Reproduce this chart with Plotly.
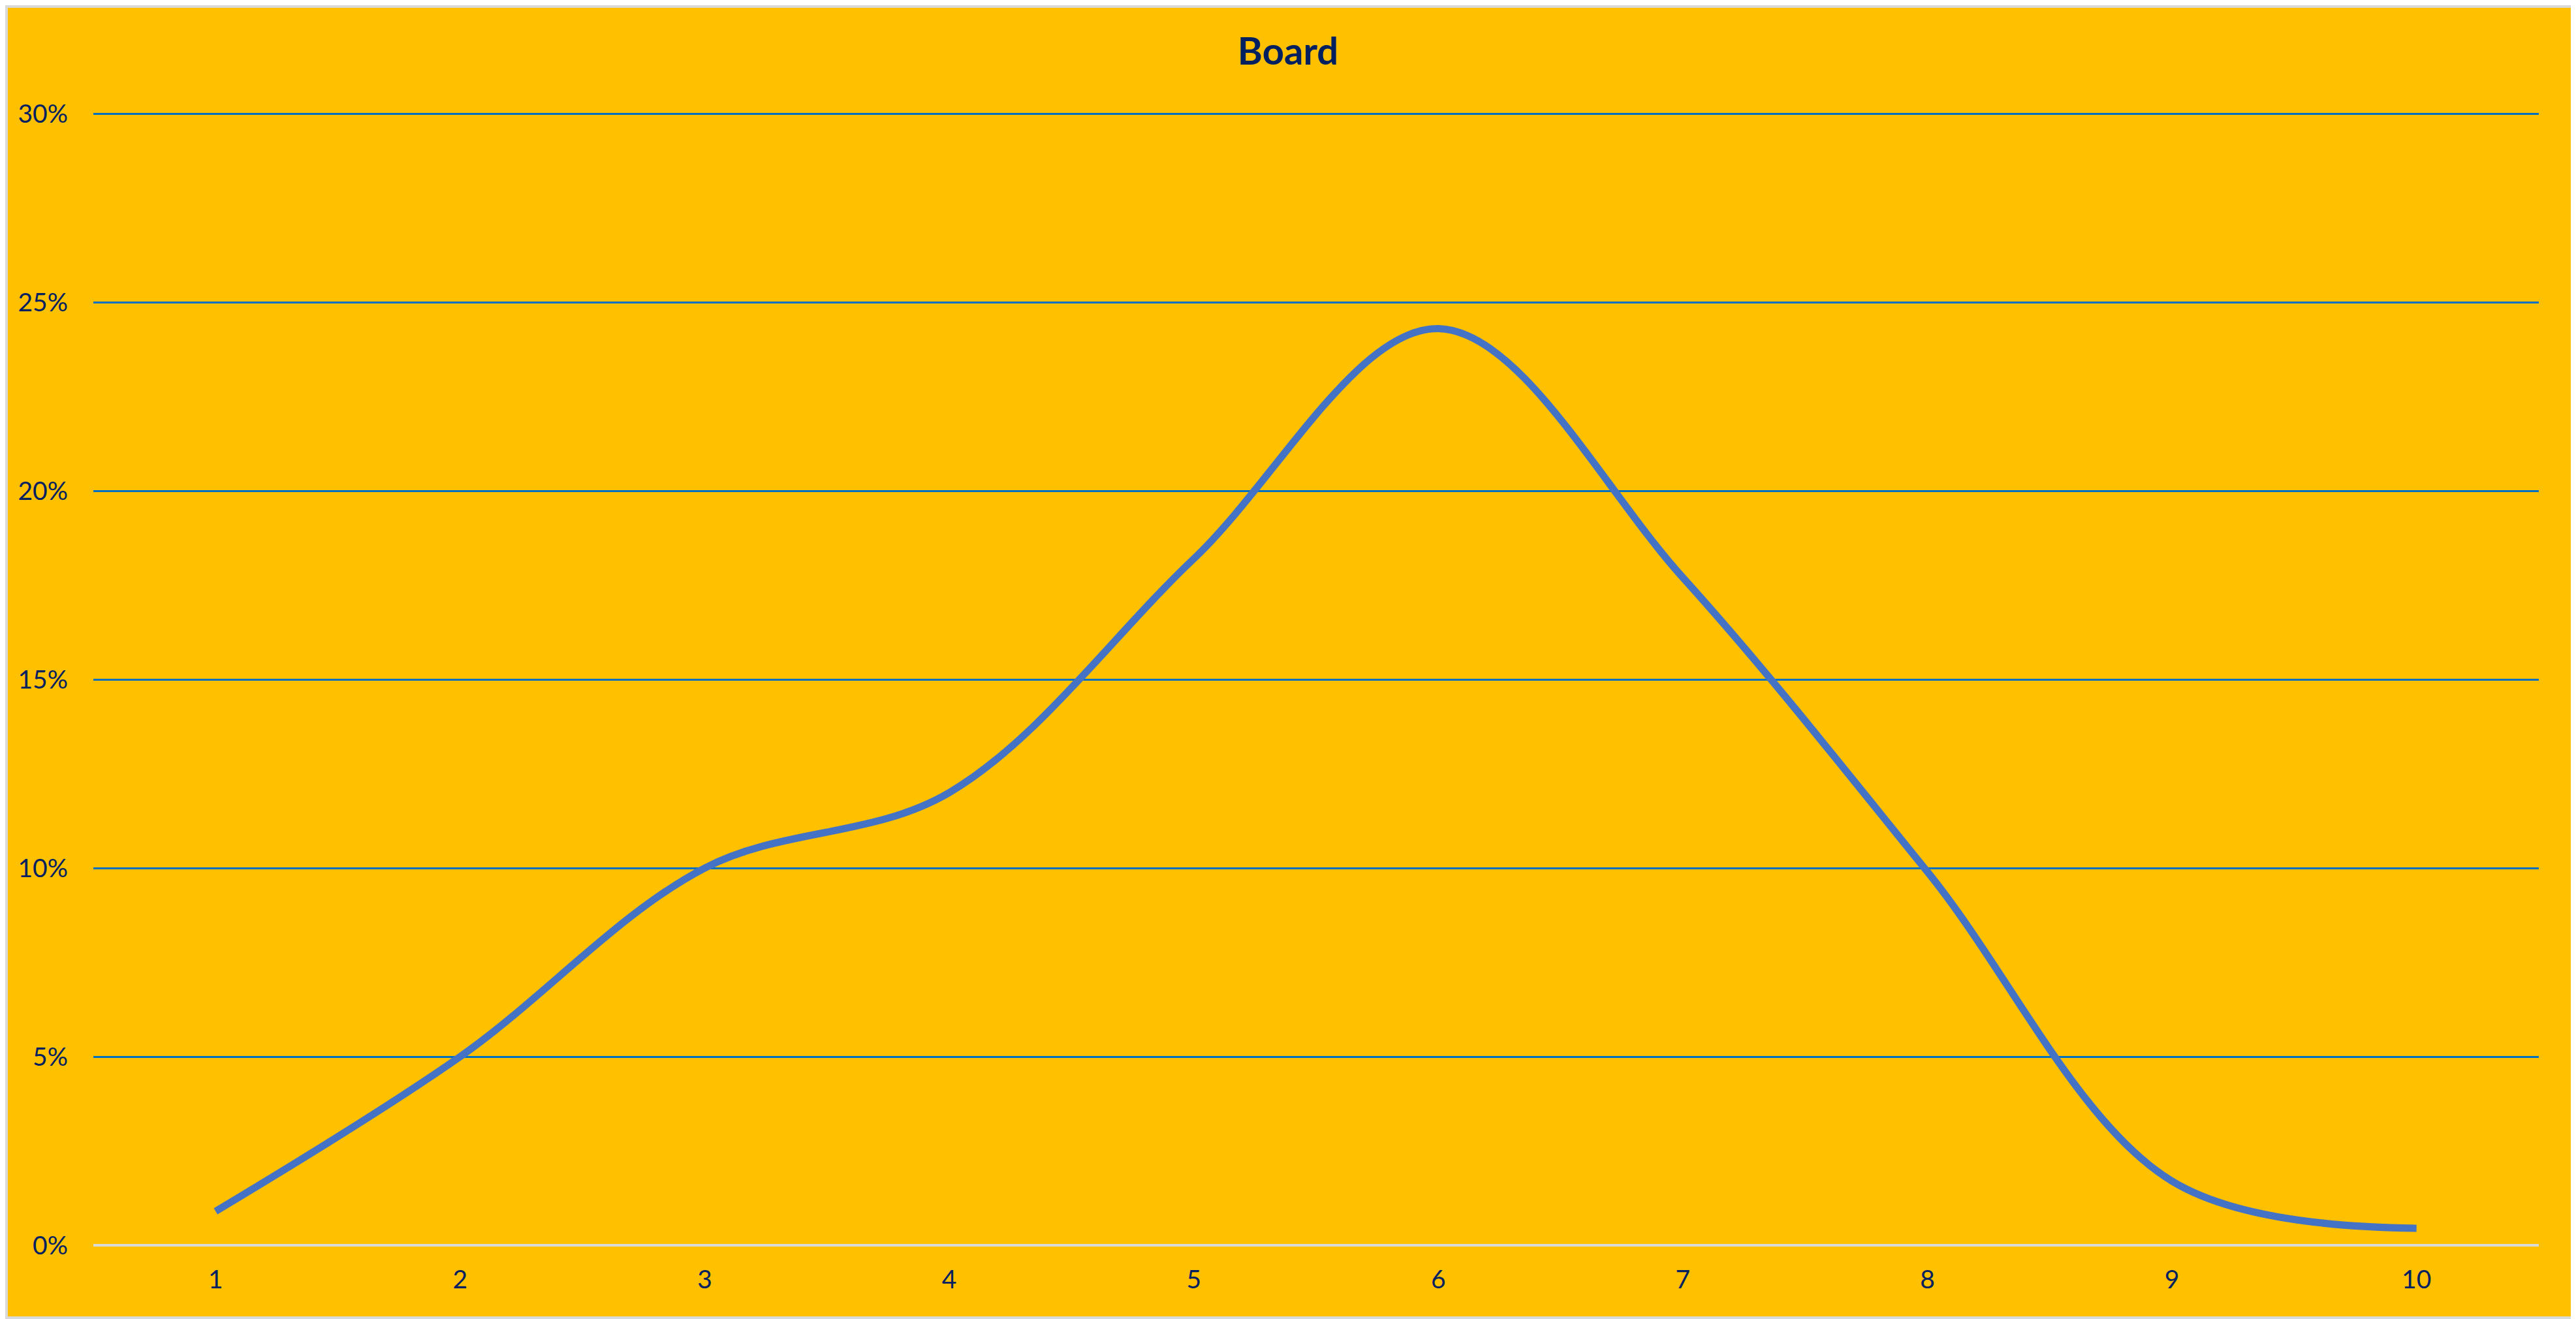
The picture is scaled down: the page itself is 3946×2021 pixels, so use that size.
import plotly.graph_objects as go

categories = ["1", "2", "3", "4", "5", "6", "7", "8", "9", "10"]
values = [0.009, 0.050, 0.100, 0.120, 0.182, 0.243, 0.177, 0.099, 0.017, 0.0045]
title_text = "Board"

OFF = 8  # default page body margin
W, H = 3946 - OFF, 2021 - OFF
ml, mr, mt, mb = 143 - OFF, 57, 173 - OFF, 113
pw, ph = W - ml - mr, H - mt - mb

text_color = "#002060"
font_family = "Lato, Open Sans, sans-serif"

fig = go.Figure()
fig.add_trace(go.Scatter(
    x=categories, y=values, mode="lines",
    line=dict(color="#4472C4", width=11, shape="spline", smoothing=1.0),
    hoverinfo="x+y",
))

fig.update_layout(
    width=W, height=H,
    margin=dict(l=ml, r=mr, t=mt, b=mb),
    paper_bgcolor="#FFC000", plot_bgcolor="#FFC000",
    showlegend=False,
    title=dict(text="<b>" + title_text + "</b>", x=(1973 - OFF) / W, xanchor="center",
               y=1 - (79 - OFF) / H, yanchor="middle",
               font=dict(family=font_family, size=58, color=text_color)),
    xaxis=dict(type="category", range=[-0.5, 9.5], showgrid=False,
               showline=False, ticks="", zeroline=False,
               tickfont=dict(family=font_family, size=39, color=text_color),
               ticklabelstandoff=26),
    yaxis=dict(range=[0, 0.3002], tickvals=[0, 0.05, 0.10, 0.15, 0.20, 0.25, 0.30],
               tickformat=".0%",
               showgrid=True, gridcolor="#0070C0", gridwidth=3,
               zeroline=True, zerolinecolor="#D9D9D9", zerolinewidth=4,
               showline=False, ticks="",
               tickfont=dict(family=font_family, size=39, color=text_color),
               ticklabelstandoff=38),
    shapes=[dict(type="rect", xref="paper", yref="paper",
                 x0=-(ml - 2) / pw, x1=1 + (mr - 2) / pw,
                 y0=-(mb - 2) / ph, y1=1 + (mt - 2) / ph,
                 line=dict(color="#D9D9D9", width=4), layer="below")],
)

fig.write_html("out.html")
